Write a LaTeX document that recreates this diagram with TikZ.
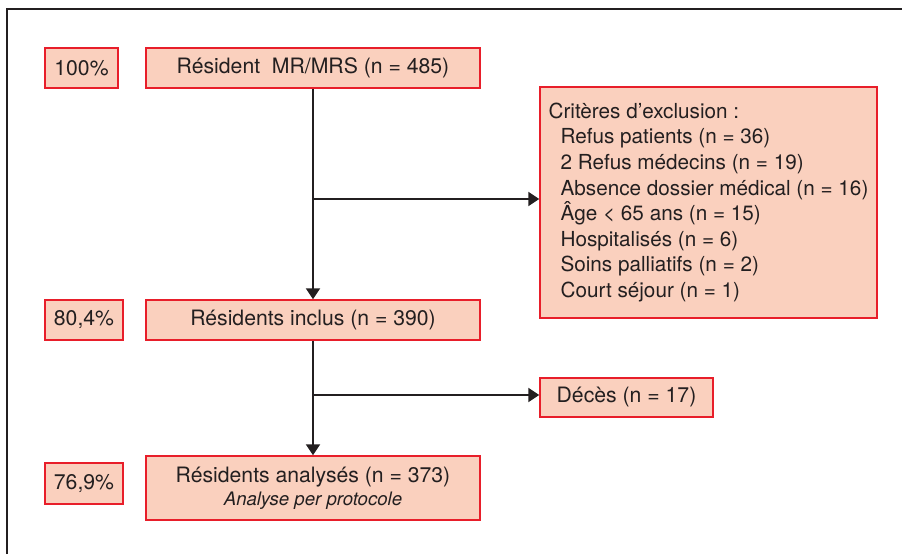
\documentclass[tikz,border=0pt]{standalone}
\usepackage{fontspec}
\setmainfont{TeX Gyre Heros}
\usetikzlibrary{arrows.meta}
\definecolor{boxfill}{RGB}{250,208,190}
\definecolor{boxline}{RGB}{232,30,42}
\definecolor{ink}{RGB}{35,31,32}
\begin{document}
\begin{tikzpicture}[x=0.5pt,y=-0.5pt,
 box/.style={draw=boxline, fill=boxfill, line width=0.75pt, text=ink, inner sep=0pt, font=\fontsize{10.6}{12.7}\selectfont, align=center},
 pct/.style={box, minimum height=20pt},
 main/.style={box, minimum width=167pt, minimum height=20pt},
 conn/.style={draw=ink, line width=1pt},
 arr/.style={conn, -{Triangle[length=5.5pt,width=7pt]}}]
\useasboundingbox (0,0) rectangle (902,554);
\draw[ink, line width=1pt] (7,554) -- (7,9) -- (902,9);

\node[pct, minimum width=36.5pt] (p100) at (81.5,68) {100\%};
\node[main] (res) at (313,68) {Résident\ \ MR/MRS (n = 485)};
\node[box, align=left, font=\fontsize{10.35}{12.8}\selectfont, minimum width=168.5pt, minimum height=115.5pt] (excl) at (708.5,202.5) {Critères d’exclusion :\\
\hspace*{6pt}Refus patients (n = 36)\\
\hspace*{6pt}2 Refus médecins (n = 19)\\
\hspace*{6pt}Absence dossier médical (n = 16)\\
\hspace*{6pt}Âge < 65 ans (n = 15)\\
\hspace*{6pt}Hospitalisés (n = 6)\\
\hspace*{6pt}Soins palliatifs (n = 2)\\
\hspace*{6pt}Court séjour (n = 1)};
\node[pct, minimum width=39pt] (p80) at (84,320) {80,4\%};
\node[main] (inc) at (313,320) {Résidents inclus (n = 390)};
\node[box, minimum width=86.5pt, minimum height=19.5pt] (dec) at (626.5,397.5) {Décès (n = 17)};
\node[pct, minimum width=39pt, minimum height=20.5pt] (p77) at (84,483.5) {76,9\%};
\node[main, minimum height=32pt, font=\fontsize{10.6}{11.5}\selectfont] (ana) at (313,488) {Résidents analysés (n = 373)\\{\fontsize{9.3}{11.5}\selectfont\itshape Analyse per protocole}};

\draw[arr] (res.south) -- (inc.north);
\coordinate (b1) at (313,199);
\draw[arr] (b1) -- (b1 -| excl.west);
\draw[arr] (inc.south) -- (ana.north);
\coordinate (b2) at (313,395);
\draw[arr] (b2) -- (b2 -| dec.west);
\end{tikzpicture}
\end{document}
